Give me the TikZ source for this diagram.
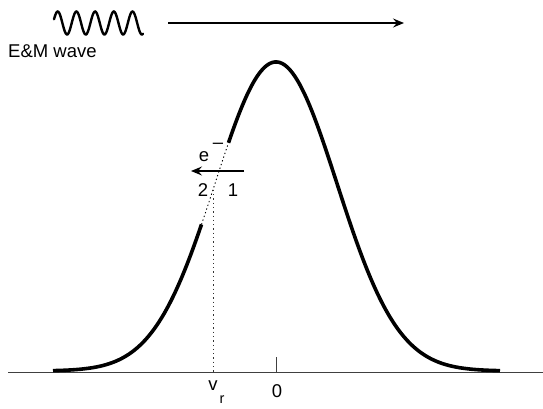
\documentclass[tikz,border=0pt]{standalone}
\usepackage{fontspec}
\setmainfont{Liberation Sans}
\usetikzlibrary{arrows.meta}
\begin{document}
\begin{tikzpicture}[x=1pt,y=-1pt,
  lbl/.style={inner sep=0pt,font=\fontsize{18.5}{21}\selectfont},
  curve/.style={line width=3.6pt,line cap=butt},
  arr/.style={line width=2pt,-{Stealth[length=11pt,width=9pt,inset=4pt]}},
  thindash/.style={line width=0.9pt,dash pattern=on 1.3pt off 2.6pt}]
\useasboundingbox (0,0) rectangle (543,408);
% axis
\coordinate (axL) at (8,372);
\coordinate (axR) at (543,372);
\draw[line width=0.8pt,black!75] (axL) -- (axR);
% tick at 0
\coordinate (t0) at (276,372);
\coordinate (t0u) at (276,357);
\draw[line width=0.8pt,black!75] (t0) -- (t0u);
% gaussian
\draw[curve] plot[smooth,samples=120,domain=53:201.5] (\x,{371-309*exp(-0.5*((\x-276)/61)^2)});
\draw[curve] plot[smooth,samples=200,domain=228.5:500] (\x,{371-309*exp(-0.5*((\x-276)/61)^2)});
\draw[thindash] plot[smooth,samples=30,domain=201.5:228.5] (\x,{371-309*exp(-0.5*((\x-276)/61)^2)});
% vertical dotted line at v_r
\coordinate (vtop) at (213,{371-309*exp(-0.5*((213-276)/61)^2)});
\coordinate (vbot) at (213,372);
\draw[line width=0.9pt,black!80,dash pattern=on 1.3pt off 3pt] (vtop) -- (vbot);
% wave
\draw[line width=2.4pt,line cap=round] plot[smooth,samples=120,domain=54:143] (\x,{23-11.5*cos(deg(2*pi*(\x-57.7)/18.7))});
\node[lbl,anchor=north west] (em) at (8,44) {E\&M wave};
% top arrow
\coordinate (a1) at (168,23);
\coordinate (a2) at (404,23);
\draw[arr] (a1) -- (a2);
% electron arrow
\coordinate (e1) at (244,171);
\coordinate (e2) at (191,171);
\draw[arr,line width=1.8pt] (e1) -- (e2);
\node[lbl,anchor=base] (e) at (204,161) {e};
\node[lbl,anchor=base] (minus) at (218,148) {--};
\node[lbl] (two) at (203,190) {2};
\node[lbl] (one) at (233,190) {1};
\node[lbl] (vr) at (213,386) {v};
\node[lbl,font=\fontsize{14.5}{16}\selectfont] (r) at (222,400) {r};
\node[lbl] (zero) at (277,391) {0};
\end{tikzpicture}
\end{document}
